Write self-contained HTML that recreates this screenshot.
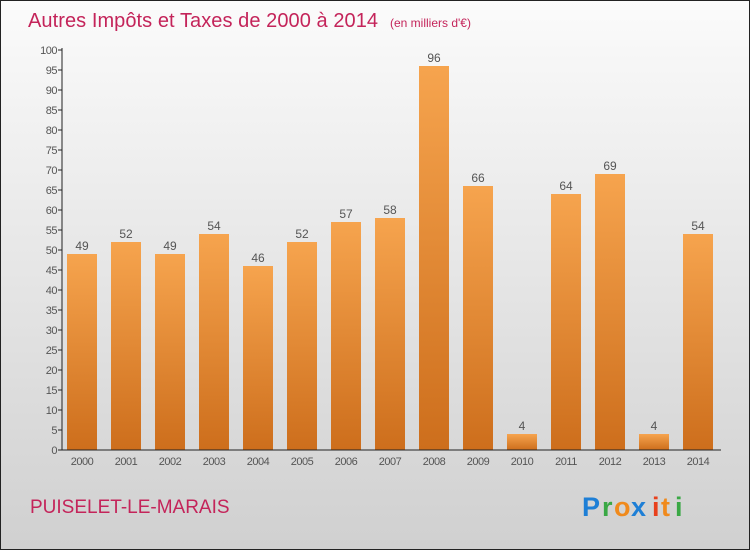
<!DOCTYPE html>
<html><head><meta charset="utf-8"><style>
body{margin:0;width:750px;height:550px;overflow:hidden;font-family:"Liberation Sans","DejaVu Sans",sans-serif}
</style></head><body>
<svg id="chart" width="750" height="550" xmlns="http://www.w3.org/2000/svg">
<defs>
<linearGradient id="bg" x1="0" y1="0" x2="0" y2="1"><stop offset="0" stop-color="#fbfbfb"/><stop offset="1" stop-color="#d0d0d0"/></linearGradient>
<linearGradient id="bar" x1="0" y1="0" x2="0" y2="1"><stop offset="0" stop-color="#f6a44e"/><stop offset="1" stop-color="#cd6e1c"/></linearGradient>
</defs>
<rect x="0.5" y="0.5" width="749" height="549" fill="url(#bg)" stroke="#222"/>
<text x="28" y="27" font-size="20" fill="#c4245a" textLength="350">Autres Impôts et Taxes de 2000 à 2014</text>
<text x="390" y="27" font-size="12" fill="#c4245a">(en milliers d'€)</text>
<g id="ticks"></g><g id="bars"></g>
<line x1="62" y1="48" x2="62" y2="450" stroke="#222"/>
<line x1="62" y1="450" x2="721" y2="450" stroke="#222"/>
<text x="30" y="513" font-size="19" fill="#c4245a">PUISELET-LE-MARAIS</text>
<g font-size="27" font-weight="bold">
<text x="582" y="516" fill="#1e7fd6">P</text><text x="602" y="516" fill="#3aa845">r</text><text x="614" y="516" fill="#f08a1c">o</text><text x="631" y="516" fill="#1e7fd6">x</text><text x="652" y="516" fill="#e8401c">i</text><text x="661" y="516" fill="#f08a1c">t</text><text x="675" y="516" fill="#3aa845">i</text>
</g>
</svg>
<script>
const categories=["2000","2001","2002","2003","2004","2005","2006","2007","2008","2009","2010","2011","2012","2013","2014"];
const values=[49,52,49,54,46,52,57,58,96,66,4,64,69,4,54];
const yTicks=[0,5,10,15,20,25,30,35,40,45,50,55,60,65,70,75,80,85,90,95,100];
const NS="http://www.w3.org/2000/svg";
const y=v=>450-v*4;
const x=i=>67+i*44;
const tg=document.getElementById('ticks'),bg=document.getElementById('bars');
function mk(tag,at,parent){const e=document.createElementNS(NS,tag);for(const k in at)e.setAttribute(k,at[k]);parent.appendChild(e);return e;}
yTicks.forEach(t=>{
 const l=mk('line',{x1:58,x2:62,y1:y(t),y2:y(t),stroke:'#222'},tg);
 
 
 const tx=mk('text',{x:57,y:y(t)+4,'font-size':11,fill:'#555','text-anchor':'end','letter-spacing':'-0.5'},tg);
 tx.textContent=t;
 
 
});
values.forEach((v,i)=>{
 const r=mk('rect',{x:x(i),y:y(v),width:30,height:v*4,fill:'url(#bar)'},bg);
 
 
 const vl=mk('text',{x:x(i)+15,y:y(v)-4,'font-size':12,fill:'#555','text-anchor':'middle'},bg);
 vl.textContent=v;
 
 
 const xl=mk('text',{x:x(i)+15,y:465,'font-size':11,fill:'#555','text-anchor':'middle','letter-spacing':'-0.5'},bg);
 xl.textContent=categories[i];
 
 
});
</script>
</body></html>
